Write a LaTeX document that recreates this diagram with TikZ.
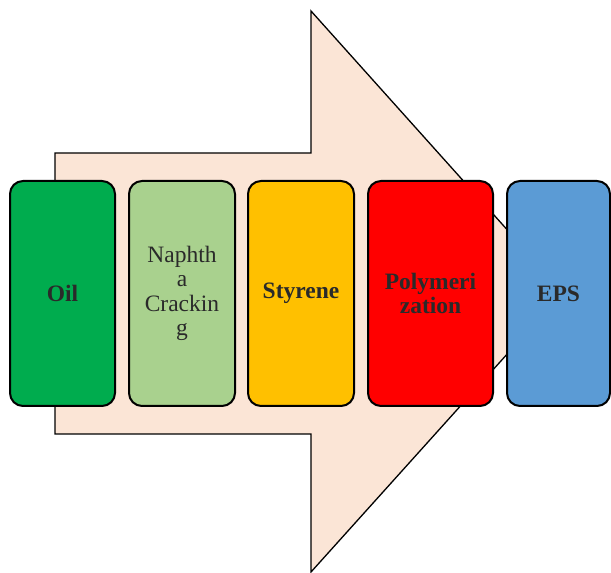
\documentclass[tikz,border=0pt]{standalone}
\usepackage{fontspec}
\setmainfont{Liberation Serif}
\definecolor{arrowfill}{HTML}{FBE5D6}
\definecolor{oilc}{HTML}{00AC4E}
\definecolor{naphc}{HTML}{A9D18E}
\definecolor{styc}{HTML}{FFC000}
\definecolor{polc}{HTML}{FF0000}
\definecolor{epsc}{HTML}{5B9BD5}
\definecolor{txt}{HTML}{2A2A2A}
\begin{document}
\begin{tikzpicture}[x=1pt,y=1pt,
  box/.style={draw=black, line width=2pt, rounded corners=13pt, minimum height=225pt,
    inner sep=0pt, align=center, text=txt, font=\fontsize{23.5}{24.5}\selectfont},
  bigarrow/.style={draw=black, line width=1.3pt, fill=arrowfill, line join=miter}]
\useasboundingbox (0,0) rectangle (611,573);
\draw[bigarrow] (55,420) -- (311,420) -- (311,562) -- (563,281) -- (311,1) -- (311,139) -- (55,139) -- cycle;
\node[box, fill=oilc, minimum width=105pt] (oil) at (62.5,279.5) {\textbf{Oil}};
\node[box, fill=naphc, minimum width=106pt] (naph) at (182,279.5) {Naphth\\a\\Crackin\\g};
\node[box, fill=styc, minimum width=106pt] (sty) at (301,279.5) {\textbf{Styrene}};
\node[box, fill=polc, minimum width=125pt] (pol) at (430.5,279.5) {\textbf{Polymeri}\\\textbf{zation}};
\node[box, fill=epsc, minimum width=103pt] (eps) at (558.5,279.5) {\textbf{EPS}};
\end{tikzpicture}
\end{document}
